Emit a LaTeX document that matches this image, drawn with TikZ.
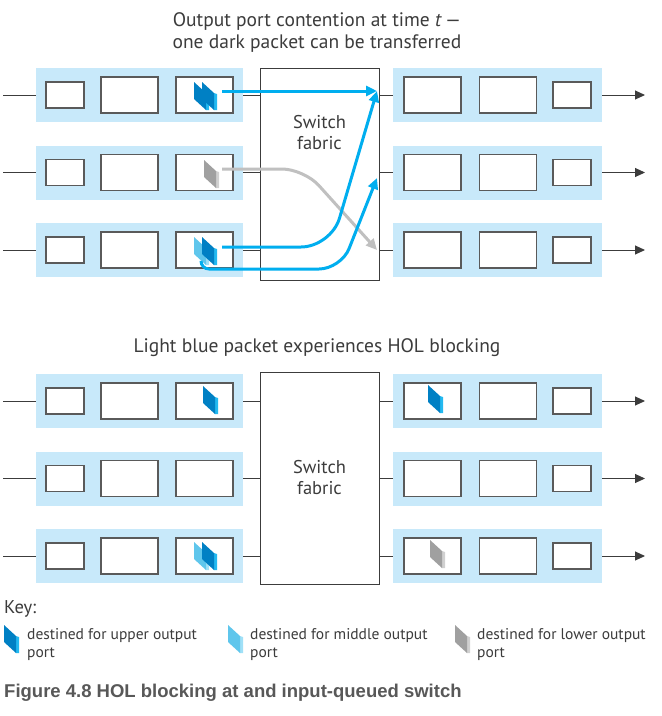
\documentclass[tikz,border=0pt]{standalone}
\usepackage{fontspec}
\setmainfont{PT Sans}
\setsansfont{Liberation Sans}
\usetikzlibrary{arrows.meta, positioning}
\definecolor{bandblue}{RGB}{200,233,250}
\definecolor{boxline}{RGB}{90,90,90}
\definecolor{ink}{RGB}{60,60,60}
\definecolor{flowblue}{RGB}{0,174,239}
\definecolor{flowgray}{RGB}{192,192,192}
\definecolor{pktdark}{RGB}{0,128,196}
\definecolor{pktdarkside}{RGB}{35,185,240}
\definecolor{pktlight}{RGB}{95,198,236}
\definecolor{pktlightside}{RGB}{160,224,247}
\definecolor{pktgray}{RGB}{160,160,160}
\definecolor{pktgrayside}{RGB}{208,208,208}
\definecolor{capgray}{RGB}{88,88,88}

\begin{document}
\begin{tikzpicture}[
    x=1pt, y=-1pt,
    font=\fontsize{18.5}{21}\selectfont, text=ink,
    band/.style={rectangle, fill=bandblue, minimum width=#1, minimum height=54pt, inner sep=0pt},
    sbox/.style={rectangle, draw=boxline, line width=1.2pt, fill=white, minimum width=38pt, minimum height=26pt, inner sep=0pt},
    lbox/.style={rectangle, draw=boxline, line width=1.2pt, fill=white, minimum width=57pt, minimum height=36pt, inner sep=0pt},
    fabric/.style={rectangle, draw=ink, line width=1pt, fill=white, minimum width=119pt, minimum height=212pt, inner sep=0pt, align=center},
    titletext/.style={align=center, font=\fontsize{19.5}{22}\selectfont},
    wire/.style={draw=ink, line width=1pt},
    outwire/.style={wire, -{Triangle[length=10pt, width=9pt]}},
    flow/.style={draw=#1, line width=3pt, -{Triangle[length=11pt, width=10pt]}},
    keytext/.style={anchor=north west, inner sep=0pt, align=left, font=\fontsize{15.5}{18}\selectfont},
    pics/pkt/.style 2 args={code={
        \fill[#2] (12,11) -- (15,12) -- (15,28) -- (12,28) -- cycle;
        \fill[#1] (0,0) -- (12,11) -- (12,28) -- (0,17) -- cycle;
    }}
]
\useasboundingbox[fill=white] (0,0) rectangle (662,716);

% titles
\node[titletext] (title1) at (317,33) {Output port contention at time \textit{t}\,—\\one dark packet can be transferred};
\node[titletext] (title2) at (317,348) {Light blue packet experiences HOL blocking};

% switch fabrics
\node[fabric] (fab1) at (319.5,174) {};
\node[align=center] (fabtext1) at (319.5,133) {Switch\\fabric};
\node[fabric] (fab2) at (319.5,478) {Switch\\fabric};

% input and output ports
\foreach \r/\y/\f in {1/95/1, 2/172.5/1, 3/250/1, 4/401/2, 5/478.5/2, 6/556/2} {
    \node[band=207pt] (in\r) at (139.5,\y) {};
    \node[sbox] (in\r-a) at (65,\y) {};
    \node[lbox] (in\r-b) at (129.5,\y) {};
    \node[lbox] (in\r-c) at (204.5,\y) {};
    \node[band=209pt] (out\r) at (497.5,\y) {};
    \node[lbox] (out\r-a) at (432.5,\y) {};
    \node[lbox] (out\r-b) at (508,\y) {};
    \node[sbox] (out\r-c) at (572,\y) {};
    \coordinate (src\r) at (3,\y);
    \coordinate (dst\r) at (645,\y);
    \draw[wire] (src\r) -- (in\r);
    \draw[wire] (in\r) -- (fab\f.west |- in\r);
    \draw[wire] (fab\f.east |- out\r) -- (out\r);
    \draw[outwire] (out\r) -- (dst\r);
}

% packets at time t
\pic at (194,82) {pkt={pktdark}{pktdarkside}};
\pic at (202,82) {pkt={pktdark}{pktdarkside}};
\pic at (204,160) {pkt={pktgray}{pktgrayside}};
\pic at (194,237) {pkt={pktlight}{pktlightside}};
\pic at (202,237) {pkt={pktdark}{pktdarkside}};

% transfers through the fabric
\coordinate (pk1) at (222,91);
\coordinate (pk2) at (222,169);
\coordinate (pk3) at (222,247);
\coordinate (pk3b) at (201,262);
\coordinate (hit1) at (377,91);
\coordinate (hit2) at (377,178);
\coordinate (hit3) at (377,250);
\draw[flow=flowgray, rounded corners=22pt] (pk2) -- (304,169) -- (hit3);
\draw[flow=flowblue] (pk1) -- (hit1);
\draw[flow=flowblue, rounded corners=30pt] (pk3) -- (331,247) -- (hit1);
\draw[flow=flowblue, rounded corners=8pt] (pk3b) |- (250,269) [rounded corners=22pt] -- (341,269) -- (hit2);

% packets after the transfer
\pic at (203,386) {pkt={pktdark}{pktdarkside}};
\pic at (194,542) {pkt={pktlight}{pktlightside}};
\pic at (202,542) {pkt={pktdark}{pktdarkside}};
\pic at (428,385) {pkt={pktdark}{pktdarkside}};
\pic at (430,540) {pkt={pktgray}{pktgrayside}};

% key
\node[anchor=north west, inner sep=0pt] (key) at (4,600) {Key:};
\pic at (4,625) {pkt={pktdark}{pktdarkside}};
\node[keytext] (key1) at (27,628) {destined for upper output\\port};
\pic at (228,625) {pkt={pktlight}{pktlightside}};
\node[keytext] (key2) at (250,628) {destined for middle output\\port};
\pic at (455,625) {pkt={pktgray}{pktgrayside}};
\node[keytext] (key3) at (477,628) {destined for lower output\\port};

% caption
\node[anchor=west, inner sep=0pt, text=capgray, font=\sffamily\bfseries\fontsize{18.5}{21}\selectfont] (caption) at (4,693) {Figure 4.8 HOL blocking at and input-queued switch};
\end{tikzpicture}
\end{document}
